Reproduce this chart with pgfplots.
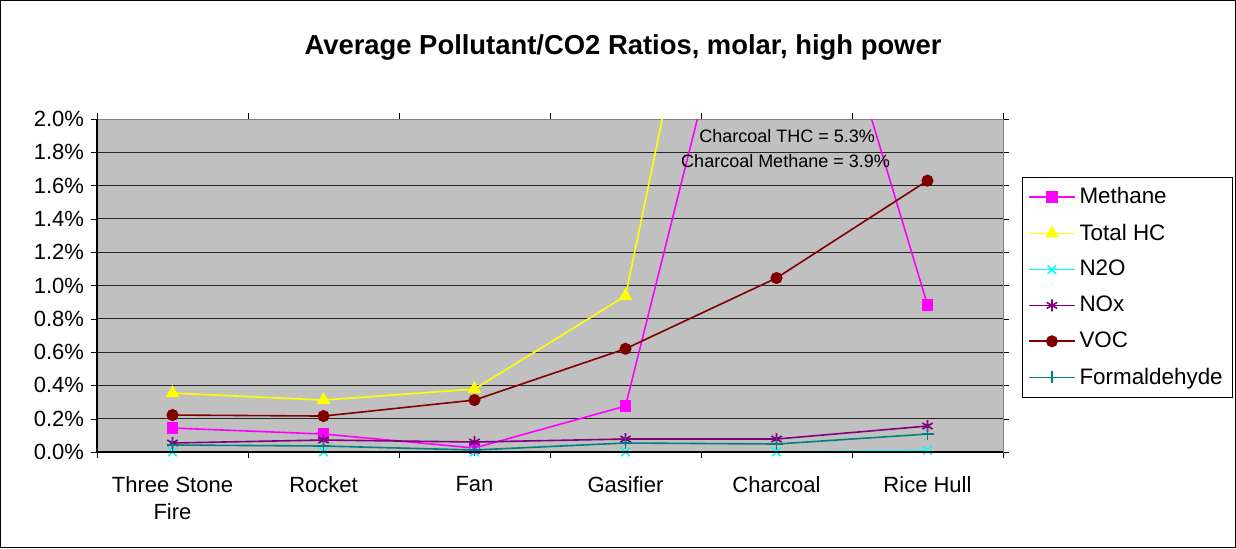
\documentclass[border=0pt]{standalone}
\usepackage{fontspec}
\setmainfont{Liberation Sans}
\usepackage{pgfplots}
\pgfplotsset{compat=1.18}
\definecolor{plotbg}{RGB}{192,192,192}
\definecolor{cMeth}{RGB}{255,0,255}
\definecolor{cTHC}{RGB}{255,255,0}
\definecolor{cN2O}{RGB}{0,255,255}
\definecolor{cNOx}{RGB}{128,0,128}
\definecolor{cVOC}{RGB}{128,0,0}
\definecolor{cForm}{RGB}{0,128,128}
\begin{document}
\begin{tikzpicture}
\useasboundingbox (-48.5pt,-48pt) rectangle (569.5pt,226pt);
\draw[line width=0.6pt] (-48.2pt,-47.7pt) rectangle (569.2pt,225.7pt);
\node[font=\bfseries\fontsize{13.7}{16}\selectfont] at (263pt,202.5pt) {Average Pollutant/CO2 Ratios, molar, high power};
\begin{axis}[
 at={(0,0)}, anchor=south west,
 scale only axis, width=453pt, height=166.5pt,
 xmin=-0.5, xmax=5.5, ymin=0, ymax=2,
 axis background/.style={fill=plotbg},
 axis line style={gray},
 xtick={0,1,2,3,4,5},
 xticklabels={{Three Stone\\Fire},Rocket,Fan,Gasifier,Charcoal,Rice Hull},
 xticklabel style={align=center, yshift=-5.5pt},
 major x tick style={draw=none},
 minor xtick={-0.5,0.5,1.5,2.5,3.5,4.5,5.5},
 minor x tick style={black},
 tick align=outside,
 major tick length=3pt, minor tick length=3pt,
 ytick={0,0.2,0.4,0.6,0.8,1.0,1.2,1.4,1.6,1.8,2.0},
 y tick style={black},
 /pgf/number format/assume math mode=true,
 yticklabel={\pgfmathprintnumber[fixed,fixed zerofill,precision=1]{\tick}\%},
 tick label style={font=\fontsize{11}{13.5}\selectfont},
 ymajorgrids, grid style={black!85, line width=0.5pt},
 clip mode=individual,
 legend style={at={(1,1)}, anchor=north west, xshift=9.5pt, yshift=-29pt,
   draw=black, font=\fontsize{11.2}{12.5}\selectfont, row sep=4.6pt, inner sep=3pt},
 legend cell align=left,
 legend image code/.code={\draw[mark=none, line width=0.8pt] (0cm,0cm) -- (0.8cm,0cm); \draw plot coordinates {(0.4cm,0cm)};},
 every axis plot/.append style={line width=0.8pt},
]
\addplot[color=cMeth, forget plot] coordinates {(0,0.144) (1,0.108) (2,0.024) (3,0.276) (4,3.9) (5,0.883)};
\addplot[color=cMeth, only marks, mark=square*, mark size=2.4pt] coordinates {(0,0.144) (1,0.108) (2,0.024) (3,0.276) (5,0.883)};
\addlegendentry{Methane}
\addplot[color=cTHC, forget plot] coordinates {(0,0.354) (1,0.312) (2,0.378) (3,0.937) (4,5.3)};
\addplot[color=cTHC, only marks, mark=triangle*, mark size=3.2pt] coordinates {(0,0.354) (1,0.312) (2,0.378) (3,0.937)};
\addlegendentry{Total HC}
\addplot[color=cN2O, mark=x, mark size=3pt] coordinates {(0,0.0) (1,0.0) (2,0.0) (3,0.0) (4,0.0) (5,0.01)};
\addlegendentry{N2O}
\addplot[color=cNOx, mark=asterisk, mark size=3pt] coordinates {(0,0.054) (1,0.072) (2,0.06) (3,0.078) (4,0.078) (5,0.156)};
\addlegendentry{NOx}
\addplot[color=cVOC, mark=*, mark size=2.6pt] coordinates {(0,0.222) (1,0.216) (2,0.312) (3,0.62) (4,1.045) (5,1.63)};
\addlegendentry{VOC}
\addplot[color=cForm, mark=+, mark size=3pt] coordinates {(0,0.042) (1,0.036) (2,0.012) (3,0.054) (4,0.048) (5,0.108)};
\addlegendentry{Formaldehyde}
\draw[black, line width=0.6pt] (rel axis cs:0,1) -- (rel axis cs:0,0) -- (rel axis cs:1,0);
\node[font=\fontsize{9}{11}\selectfont] at (axis cs:4.07,1.90) {Charcoal THC = 5.3\%};
\node[font=\fontsize{9}{11}\selectfont] at (axis cs:4.06,1.75) {Charcoal Methane = 3.9\%};
\end{axis}
\end{tikzpicture}
\end{document}
